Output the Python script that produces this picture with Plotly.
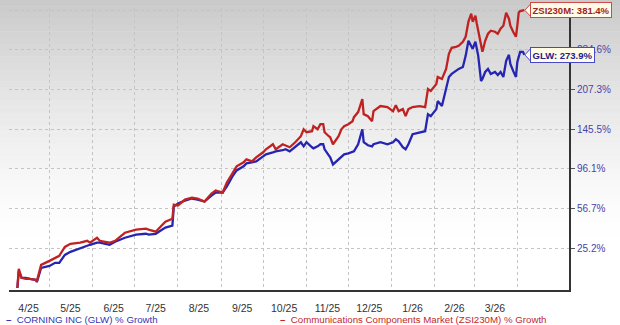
import plotly.graph_objects as go
import math

# ---------------- data (percent growth) ----------------
dates = [
    "2025-04-08", "2025-04-09", "2025-04-11", "2025-04-14", "2025-04-17", "2025-04-21", "2025-04-22",
    "2025-04-25", "2025-05-01", "2025-05-05", "2025-05-08", "2025-05-12", "2025-05-16", "2025-05-23",
    "2025-05-28", "2025-05-30", "2025-06-04", "2025-06-06", "2025-06-13", "2025-06-17", "2025-06-24",
    "2025-07-02", "2025-07-09", "2025-07-11", "2025-07-16", "2025-07-23", "2025-07-28", "2025-07-29",
    "2025-08-01", "2025-08-06", "2025-08-11", "2025-08-15", "2025-08-20", "2025-08-25", "2025-08-28",
    "2025-09-02", "2025-09-05", "2025-09-09", "2025-09-12", "2025-09-17", "2025-09-19", "2025-09-23",
    "2025-09-26", "2025-10-01", "2025-10-03", "2025-10-08", "2025-10-10", "2025-10-15", "2025-10-17",
    "2025-10-20", "2025-10-24", "2025-10-28", "2025-10-30", "2025-11-01", "2025-11-05", "2025-11-06",
    "2025-11-09", "2025-11-11", "2025-11-13", "2025-11-14", "2025-11-17", "2025-11-18", "2025-11-20",
    "2025-11-24", "2025-11-26", "2025-11-28", "2025-12-01", "2025-12-04", "2025-12-05", "2025-12-08",
    "2025-12-11", "2025-12-12", "2025-12-15", "2025-12-18", "2025-12-19", "2025-12-24", "2025-12-29",
    "2026-01-02", "2026-01-04", "2026-01-06", "2026-01-09", "2026-01-11", "2026-01-13", "2026-01-16",
    "2026-01-21", "2026-01-25", "2026-01-27", "2026-01-29", "2026-02-02", "2026-02-03", "2026-02-06",
    "2026-02-09", "2026-02-11", "2026-02-13", "2026-02-16", "2026-02-18", "2026-02-21", "2026-02-23",
    "2026-02-25", "2026-02-27", "2026-02-28", "2026-03-02", "2026-03-03", "2026-03-04", "2026-03-06",
    "2026-03-07", "2026-03-09", "2026-03-11", "2026-03-13", "2026-03-16", "2026-03-18", "2026-03-20",
    "2026-03-22", "2026-03-24", "2026-03-26", "2026-03-27", "2026-03-29", "2026-03-31", "2026-04-01",
    "2026-04-02", "2026-04-03", "2026-04-05", "2026-04-06",
]

zsi_growth = [
    0.0, 11.4, 5.9, 5.3, 5.3, 4.7, 4.1,
    14.0, 16.6, 18.6, 20.0, 26.2, 28.4, 29.2,
    30.6, 29.2, 32.9, 30.6, 29.2, 30.6, 36.7,
    39.1, 39.9, 39.1, 37.5, 45.5, 48.0, 60.3,
    59.4, 64.9, 66.8, 65.9, 63.1, 70.6, 73.6,
    71.6, 81.7, 91.2, 99.0, 103.6, 107.1, 104.7,
    109.4, 115.5, 119.2, 125.5, 119.2, 125.5, 124.2,
    121.7, 128.1, 136.0, 145.5, 141.4, 142.8, 149.8,
    145.5, 152.6, 152.6, 141.4, 136.0, 134.6, 125.5,
    136.0, 145.5, 149.8, 152.6, 157.0, 162.9, 170.5,
    191.2, 167.4, 164.4, 157.0, 172.0, 179.9, 178.3,
    172.0, 181.4, 172.0, 175.1, 164.4, 175.1, 178.3,
    179.9, 178.3, 208.2, 204.8, 217.2, 230.0, 226.3,
    245.4, 276.1, 289.2, 291.3, 293.6, 302.7, 314.3,
    351.2, 372.1, 351.2, 366.8, 346.0, 328.6, 298.1,
    280.4, 305.0, 321.4, 328.6, 326.2, 321.4, 333.6,
    341.0, 374.8, 358.9, 341.0, 326.2, 314.3, 341.0,
    375.0, 379.0, 380.0, 381.4,
]

glw_growth = [
    0.0, 10.2, 5.9, 5.9, 5.3, 4.7, 3.5,
    12.0, 13.3, 15.3, 15.3, 20.6, 22.7, 25.5,
    27.0, 27.7, 29.2, 29.2, 27.7, 29.9, 32.9,
    35.2, 35.9, 35.2, 35.9, 40.7, 42.3, 58.5,
    61.2, 64.0, 65.9, 64.9, 63.1, 68.7, 71.6,
    71.6, 77.6, 88.0, 94.5, 99.0, 102.4, 103.6,
    104.7, 110.6, 113.0, 115.5, 116.7, 118.0, 119.2,
    116.7, 122.9, 128.1, 122.9, 128.1, 121.7, 120.4,
    122.9, 125.5, 125.5, 119.2, 111.8, 109.4, 101.2,
    107.1, 109.4, 113.0, 114.2, 115.5, 116.7, 125.5,
    145.5, 128.1, 124.2, 122.9, 125.5, 128.1, 125.5,
    128.1, 132.0, 129.4, 121.7, 119.2, 125.5, 138.7,
    141.4, 142.8, 167.4, 164.4, 175.1, 187.9, 179.9,
    208.2, 230.0, 235.7, 241.5, 245.4, 249.3, 271.9,
    305.0, 293.6, 287.0, 302.7, 287.0, 271.9, 222.6,
    226.3, 239.5, 245.4, 235.7, 239.5, 233.8, 239.5,
    230.0, 261.5, 274.0, 255.3, 241.5, 230.0, 259.4,
    271.9, 280.4, 280.4, 273.9,
]

x_tick_dates = ["2025-04-16", "2025-05-16", "2025-06-16", "2025-07-16", "2025-08-16", "2025-09-16",
                "2025-10-16", "2025-11-16", "2025-12-16", "2026-01-16", "2026-02-15", "2026-03-16"]
x_tick_labels = ["4/25", "5/25", "6/25", "7/25", "8/25", "9/25", "10/25", "11/25", "12/25", "1/26", "2/26", "3/26"]
month_starts = ["2025-05-01", "2025-06-01", "2025-07-01", "2025-08-01", "2025-09-01", "2025-10-01",
                "2025-11-01", "2025-12-01", "2026-01-01", "2026-02-01", "2026-03-01", "2026-04-01"]
y_tick_pct = [25.2, 56.7, 96.1, 145.5, 207.3, 284.6, 381.4]
y_tick_shown = [True, True, True, True, True, True, False]   # top label sits behind the ZSI box

GLW_NAME = "CORNING INC (GLW) % Growth"
ZSI_NAME = "Communications Components Market (ZSI230M) % Growth"

BLUE = "#2525b2"
RED = "#c02222"
FONT = "Arial, Liberation Sans"


def factor(v):
    return 1 + v / 100.0


fig = go.Figure()
fig.add_trace(go.Scatter(x=dates, y=[factor(v) for v in glw_growth], mode="lines",
                         line=dict(color=BLUE, width=2.3), name=GLW_NAME))
fig.add_trace(go.Scatter(x=dates, y=[factor(v) for v in zsi_growth], mode="lines",
                         line=dict(color=RED, width=2.3), name=ZSI_NAME))

# ---------------- layout ----------------
W, H = 620, 325
ML, MR, MT, MB = 9, 51, 8, 35
plot_h = H - MT - MB
y_range = [-2 / 407, 280 / 407]

# background gradient (grey at top fading to white)
shapes = []
n = 40
span = 250.0
for i in range(n):
    py0 = i * span / n
    py1 = (i + 1) * span / n + 0.6
    t = (py0 + py1) / 2 / span
    c = int(round(255 - 54 * (1 - t) ** 1.5))
    shapes.append(dict(type="rect", xref="paper", yref="paper", layer="below",
                       x0=-0.05, x1=1.2,
                       y0=(H - MB - py1) / plot_h, y1=(H - MB - py0) / plot_h,
                       fillcolor=f"rgb({c},{c},{c})", line=dict(width=0)))

annotations = []


def end_label(text, value, txt_color, border_color):
    ly = math.log10(factor(value))
    annotations.append(dict(x=dates[-1], y=ly, xref="x", yref="y",
                            text=f"<b>{text}</b>", showarrow=False,
                            xanchor="left", yanchor="middle", xshift=6,
                            font=dict(family=FONT, size=9.5, color=txt_color),
                            bgcolor="#fffbe6", bordercolor=border_color, borderwidth=1, borderpad=1.5))
    # pointer of the value box
    shapes.append(dict(type="path", layer="above", xref="x", yref="paper",
                       xsizemode="pixel", ysizemode="pixel",
                       xanchor=dates[-1], yanchor=(ly - y_range[0]) / (y_range[1] - y_range[0]),
                       path="M 7.5,7.5 L 0.5,0 L 7.5,-7.5",
                       fillcolor="#fffbe6", line=dict(color=border_color, width=1)))


end_label(f"ZSI230M: {zsi_growth[-1]:.1f}%", zsi_growth[-1], "#a01e1e", "#d04848")
end_label(f"GLW: {glw_growth[-1]:.1f}%", glw_growth[-1], "#22228f", "#4848c8")

# legend entries
leg_y = -(319 - (H - MB)) / plot_h
annotations.append(dict(x=(4 - ML) / (W - ML - MR), y=leg_y, xref="paper", yref="paper",
                        text="<b>\u2013</b>\u00a0 " + GLW_NAME, showarrow=False,
                        xanchor="left", yanchor="middle",
                        font=dict(family=FONT, size=9.7, color="#3434b4")))
annotations.append(dict(x=(278 - ML) / (W - ML - MR), y=leg_y, xref="paper", yref="paper",
                        text="<b>\u2013</b>\u00a0 " + ZSI_NAME, showarrow=False,
                        xanchor="left", yanchor="middle",
                        font=dict(family=FONT, size=9.7, color="#c02828")))

fig.update_layout(
    width=W, height=H,
    margin=dict(l=ML, r=MR, t=MT, b=MB, pad=0),
    paper_bgcolor="white",
    plot_bgcolor="rgba(0,0,0,0)",
    showlegend=False,
    shapes=shapes,
    annotations=annotations,
    font=dict(family=FONT, size=10, color="#333333"),
    xaxis=dict(
        type="date",
        range=["2025-04-02", "2026-05-08"],
        tickmode="array", tickvals=x_tick_dates, ticktext=x_tick_labels,
        showgrid=False, ticks="", ticklabelstandoff=7,
        tickfont=dict(size=10.5, color="#333333"),
        showline=True, linecolor="#333333", linewidth=2,
        zeroline=False,
        minor=dict(tickmode="array", tickvals=month_starts, showgrid=True,
                   gridcolor="#c4c4c4", griddash="dot", gridwidth=1, ticks=""),
    ),
    yaxis=dict(
        type="log", side="right",
        range=y_range,
        tickmode="array", tickvals=[factor(v) for v in y_tick_pct],
        ticktext=[f"{v:.1f}%" if s else "" for v, s in zip(y_tick_pct, y_tick_shown)],
        showgrid=True, gridcolor="#c4c4c4", griddash="dot", gridwidth=1,
        ticks="outside", ticklen=4, tickcolor="#555555", tickwidth=1,
        tickfont=dict(size=10, color="#4545a8"),
        showline=True, linecolor="#333333", linewidth=2,
        zeroline=False,
    ),
)

fig.write_html("out.html")
